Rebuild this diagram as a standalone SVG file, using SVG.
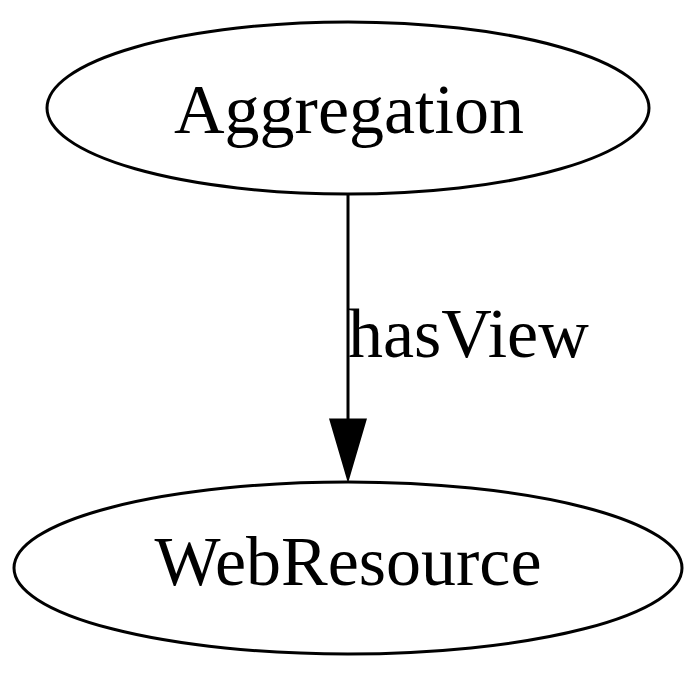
<svg xmlns="http://www.w3.org/2000/svg" width="700" height="675" viewBox="0 0 700 675">
<style>
.n{fill:none;stroke:#000;stroke-width:3}
.t{font-family:"Liberation Serif",serif;font-size:70px;fill:#000}
</style>
<rect width="700" height="675" fill="#fff"/>
<g id="connectors">
<path d="M348,194 L348,420" stroke="#000" stroke-width="3" fill="none"/>
<polygon points="331,420 365,420 348,478" fill="#000" stroke="#000" stroke-width="3"/>
<text class="t" x="348" y="357">hasView</text>
</g>
<g id="Aggregation">
<ellipse class="n" cx="348" cy="108" rx="301" ry="86"/>
<text class="t" x="349" y="133" text-anchor="middle">Aggregation</text>
</g>
<g id="WebResource">
<ellipse class="n" cx="348" cy="568" rx="334" ry="86"/>
<text class="t" x="348" y="585" text-anchor="middle">WebResource</text>
</g>
</svg>
